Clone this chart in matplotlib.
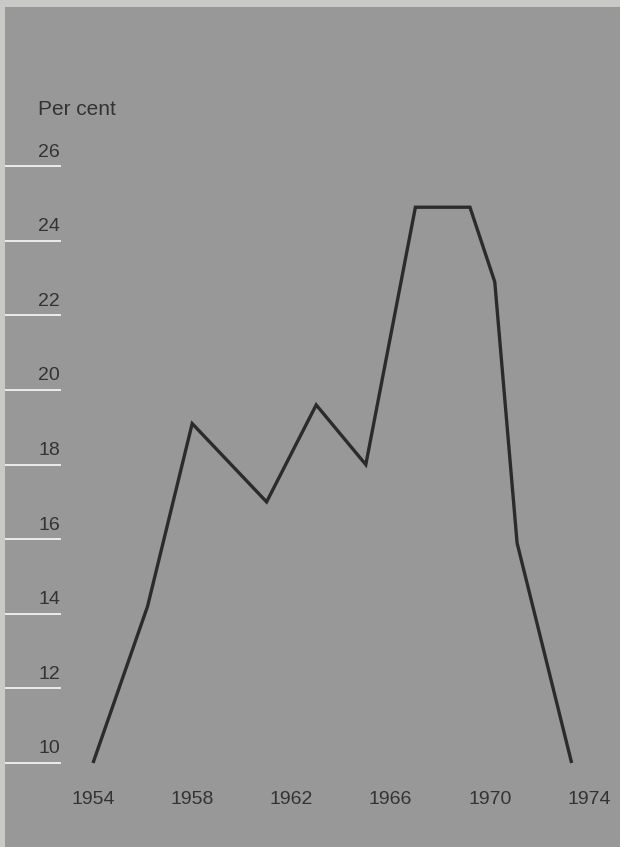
import numpy as np
import matplotlib
matplotlib.use("Agg")
import matplotlib.pyplot as plt

# ---------------
# Data
# ---------------

years = [1954, 1956.2, 1958, 1961, 1963, 1965, 1967, 1969.2, 1970.2, 1971.1, 1973.3]
per_cent = [10.0, 14.2, 19.1, 17.0, 19.6, 18.0, 24.9, 24.9, 22.9, 15.9, 10.0]

y_ticks = [10, 12, 14, 16, 18, 20, 22, 24, 26]
x_ticks = [1954, 1958, 1962, 1966, 1970, 1974]

# ---------------
# Style
# ---------------

paper = "#c9c9c7"
board = "#989898"
ink = "#2b2b2b"
text_col = "#333333"

plt.rcParams['font.family'] = ['Liberation Sans', 'DejaVu Sans']

W, H = 620, 847
fig = plt.figure(figsize=(W / 100, H / 100), dpi=100, facecolor=paper)

# axes cover the grey board (light strip left and top)
ax = fig.add_axes([5 / W, 0, 1 - 5 / W, 1 - 7 / H])
ax.set_facecolor(board)

# x: 1954 at 93 px, 24.8 px per year ; y: 10 at 763 px, 37.3 px per unit
ax.set_xlim(1954 - 88 / 24.8, 1954 + 527 / 24.8)
ax.set_ylim(10 - 84 / 37.3, 10 + 756 / 37.3)

for s in ax.spines.values():
    s.set_visible(False)
ax.set_xticks([])
ax.set_yticks([])

# white tick rules with labels sitting on top
for v in y_ticks:
    ax.axhline(v, xmin=0, xmax=55 / 615, color="#ececec", lw=1.4)
    ax.annotate(str(v), xy=(55 / 615, v), xycoords=('axes fraction', 'data'),
                xytext=(0, 4), textcoords='offset points',
                ha='right', va='bottom', fontsize=14, color=text_col)

ax.annotate("Per cent", xy=(33 / 615, 26), xycoords=('axes fraction', 'data'),
            xytext=(0, 34), textcoords='offset points',
            ha='left', va='bottom', fontsize=15, color=text_col)

for yr in x_ticks:
    ax.annotate(str(yr), xy=(yr, 10), xycoords='data',
                xytext=(0, -20), textcoords='offset points',
                ha='center', va='top', fontsize=14, color=text_col)

ax.plot(years, per_cent, color=ink, lw=2.4, solid_joinstyle='miter',
        solid_capstyle='butt')

fig.savefig("out.png", dpi=100, facecolor=paper)
